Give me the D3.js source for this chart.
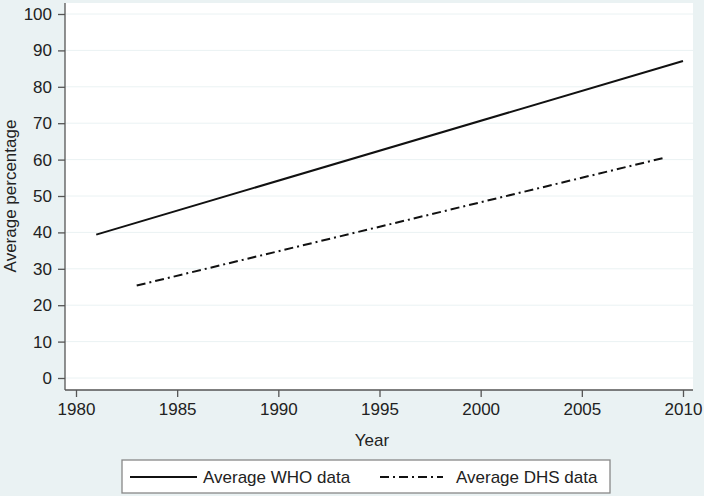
<!DOCTYPE html>
<html>
<head>
<meta charset="utf-8">
<script src="https://cdn.jsdelivr.net/npm/d3@7"></script>
<style>
  body { margin: 0; background: #eaf2f3; }
  svg { display: block; font-family: "Liberation Sans", Arial, sans-serif; }
</style>
</head>
<body>
<svg></svg>
<script>
(() => {
    const width = 704;
    const height = 496;

    // fitted lines (start and end of each)
    const whoYears = [1981, 2010];
    const whoValues = [39.4, 87.1];
    const dhsYears = [1983, 2009];
    const dhsValues = [25.4, 60.4];

    const xTicks = [1980, 1985, 1990, 1995, 2000, 2005, 2010];
    const yTicks = [0, 10, 20, 30, 40, 50, 60, 70, 80, 90, 100];
    const legendLabels = ["Average WHO data", "Average DHS data"];

    const plot = { left: 65, right: 693, top: 3, bottom: 390 };

    const svg = d3.select("svg")
        .attr("width", width)
        .attr("height", height);

    svg.append("rect")
        .attr("width", width).attr("height", height)
        .attr("fill", "#eaf2f3");

    svg.append("rect")
        .attr("x", plot.left).attr("y", plot.top)
        .attr("width", plot.right - plot.left)
        .attr("height", plot.bottom - plot.top)
        .attr("fill", "white");

    const x = d3.scaleLinear().domain([1980, 2010]).range([76, 683]);
    const y = d3.scaleLinear().domain([0, 100]).range([378, 14]);

    // gridlines
    svg.append("g")
        .selectAll("line")
        .data(yTicks)
        .enter()
        .append("line")
        .attr("x1", plot.left).attr("x2", plot.right)
        .attr("y1", d => y(d)).attr("y2", d => y(d))
        .attr("stroke", "#eaf2f3")
        .attr("stroke-width", 1);

    // axes
    const yAxis = svg.append("g")
        .attr("transform", `translate(${plot.left},0)`)
        .call(d3.axisLeft(y).tickValues(yTicks).tickSize(7).tickPadding(6));
    yAxis.select(".domain").attr("d", `M0,${plot.top}V${plot.bottom}`);

    const xAxis = svg.append("g")
        .attr("transform", `translate(0,${plot.bottom})`)
        .call(d3.axisBottom(x).tickValues(xTicks).tickFormat(d3.format("d")).tickSize(7).tickPadding(6));
    xAxis.select(".domain").attr("d", `M${plot.left},0H${plot.right}`);

    svg.selectAll(".domain, .tick line").attr("stroke", "#555").attr("stroke-width", 1.3);
    svg.selectAll(".tick text")
        .attr("fill", "#222")
        .style("font-size", "17px")
        .style("font-family", "'Liberation Sans', Arial, sans-serif");

    svg.append("text")
        .attr("transform", "translate(16,196) rotate(-90)")
        .attr("text-anchor", "middle")
        .attr("fill", "#222")
        .style("font-size", "17px")
        .text("Average percentage");

    svg.append("text")
        .attr("x", 372).attr("y", 446)
        .attr("text-anchor", "middle")
        .attr("fill", "#222")
        .style("font-size", "17px")
        .text("Year");

    const line = d3.line()
        .x(d => x(d[0]))
        .y(d => y(d[1]));

    svg.append("path")
        .datum(d3.zip(whoYears, whoValues))
        .attr("d", line)
        .attr("fill", "none")
        .attr("stroke", "#111")
        .attr("stroke-width", 2);

    svg.append("path")
        .datum(d3.zip(dhsYears, dhsValues))
        .attr("d", line)
        .attr("fill", "none")
        .attr("stroke", "#111")
        .attr("stroke-width", 2)
        .attr("stroke-dasharray", "9,4,2,4");

    // legend
    const legend = svg.append("g");
    legend.append("rect")
        .attr("x", 122).attr("y", 460)
        .attr("width", 488).attr("height", 33)
        .attr("fill", "white")
        .attr("stroke", "#888")
        .attr("stroke-width", 1.3);

    const items = [
        { x0: 130, x1: 197, tx: 203, dash: null },
        { x0: 380, x1: 443, tx: 456, dash: "9,4,2,4" }
    ];
    items.forEach((it, i) => {
        legend.append("line")
            .attr("x1", it.x0).attr("x2", it.x1)
            .attr("y1", 477).attr("y2", 477)
            .attr("stroke", "#111")
            .attr("stroke-width", 2)
            .attr("stroke-dasharray", it.dash);
        legend.append("text")
            .attr("x", it.tx).attr("y", 483)
            .attr("fill", "#222")
            .style("font-size", "17px")
            .text(legendLabels[i]);
    });
})();
</script>
</body>
</html>
